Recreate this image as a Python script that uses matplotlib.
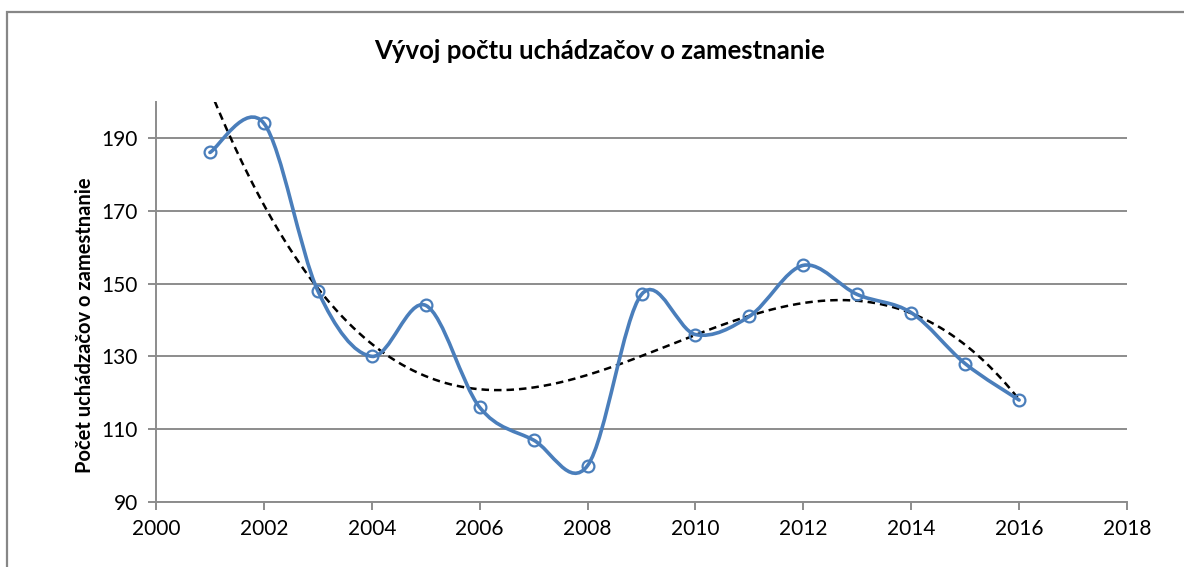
import matplotlib.pyplot as plt
import numpy as np
from matplotlib.path import Path
from matplotlib.patches import PathPatch, Rectangle

plt.rcParams['font.family'] = ['Lato', 'DejaVu Sans']

years = [2001, 2002, 2003, 2004, 2005, 2006, 2007, 2008,
         2009, 2010, 2011, 2012, 2013, 2014, 2015, 2016]
counts = [186, 194, 148, 130, 144, 116, 107, 100,
          147, 136, 141, 155, 147, 142, 128, 118]

title = "Vývoj počtu uchádzačov o zamestnanie"
ylabel = "Počet uchádzačov o zamestnanie"

BLUE = "#4A7EBB"
GRID = "#8C8C8C"

W, H = 1184, 567
fig = plt.figure(figsize=(W / 100, H / 100), dpi=100)
ax = fig.add_axes([156 / W, 1 - 502 / H, (1127 - 156) / W, (502 - 101.5) / H])

# outer chart frame
fig.patches.append(Rectangle((7 / W, -0.1), 1.2, 1 - 12 / H + 0.1,
                             transform=fig.transFigure, fill=False,
                             edgecolor="#878787", linewidth=1.6))

# smoothed line (Excel style bezier)
x = np.array(years, dtype=float)
y = np.array(counts, dtype=float)
px = np.concatenate([[x[0]], x, [x[-1]]])
py = np.concatenate([[y[0]], y, [y[-1]]])
verts = [(x[0], y[0])]
codes = [Path.MOVETO]
for i in range(len(x) - 1):
    j = i + 1
    c1 = (px[j] + (px[j + 1] - px[j - 1]) / 6, py[j] + (py[j + 1] - py[j - 1]) / 6)
    c2 = (px[j + 1] - (px[j + 2] - px[j]) / 6, py[j + 1] - (py[j + 2] - py[j]) / 6)
    verts += [c1, c2, (x[i + 1], y[i + 1])]
    codes += [Path.CURVE4] * 3
ax.add_patch(PathPatch(Path(verts, codes), fill=False, edgecolor=BLUE,
                       linewidth=2.6, zorder=3, capstyle="round", joinstyle="round"))
ax.plot(years, counts, linestyle="none", marker="o", markersize=8.5,
        markerfacecolor="none", markeredgecolor=BLUE, markeredgewidth=1.6, zorder=4)

# polynomial trendline (order 3)
coef = np.polyfit(x - 2000, y, 3)
xt = np.linspace(x[0], x[-1], 300)
ax.plot(xt, np.polyval(coef, xt - 2000), color="black", linestyle=(0, (3, 2)),
        linewidth=1.8, zorder=2)

ax.set_xlim(2000, 2018)
ax.set_ylim(90, 200)
ax.set_xticks(range(2000, 2019, 2))
ax.set_yticks(range(90, 200, 20))
ax.grid(axis="y", color=GRID, linewidth=1.4)
ax.set_axisbelow(True)
for s in ["top", "right"]:
    ax.spines[s].set_visible(False)
for s in ["left", "bottom"]:
    ax.spines[s].set_color(GRID)
    ax.spines[s].set_linewidth(1.4)
ax.tick_params(axis="both", direction="out", length=6, width=1.4, color=GRID,
               labelsize=15)
ax.tick_params(axis="x", pad=6)
ax.tick_params(axis="y", pad=7)
fig.text(85 / W, 1 - 325 / H, ylabel, rotation=90, ha="center", va="center",
         fontsize=14.5, fontweight="bold")
fig.text(600 / W, 1 - 51 / H, title, ha="center", va="center",
         fontsize=18.5, fontweight="bold")

fig.savefig("out.png", dpi=100)
